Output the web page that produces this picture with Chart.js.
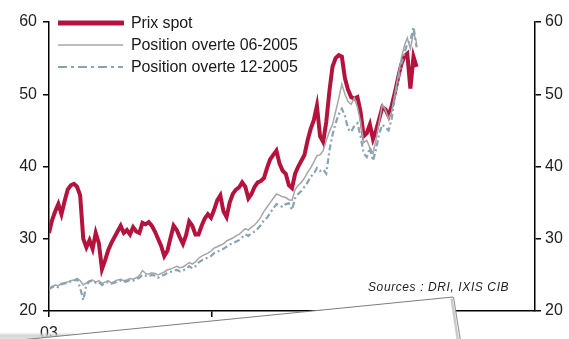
<!DOCTYPE html>
<html lang="fr">
<head>
<meta charset="UTF-8">
<title>Prix spot et positions ouvertes</title>
<script src="https://cdn.jsdelivr.net/npm/chart.js@4.4.0/dist/chart.umd.min.js"></script>
<style>
  html, body { margin: 0; padding: 0; background: #fff; }
  #wrap { position: relative; width: 569px; height: 339px; overflow: hidden; font-family: "Liberation Sans", Arial, sans-serif; }
  #chart { position: absolute; left: 0; top: 0; }
  #legend { position: absolute; left: 58px; top: 12px; }
  .row { display: flex; align-items: center; height: 22px; font-size: 16px; color: #1a1a1a; white-space: nowrap; letter-spacing: -0.1px; }
  .row svg { margin-right: 7px; display: block; }
  #sources { position: absolute; left: 368px; top: 280px; font-size: 12px; font-style: italic; letter-spacing: 0.6px; color: #222; white-space: nowrap; }
</style>
</head>
<body>
<div id="wrap">
  <canvas id="chart" width="569" height="339"></canvas>
  <div id="legend"></div>
  <div id="sources">Sources : DRI, IXIS CIB</div>
</div>
<script>
  // weekly readings from january 2003 (week 0) to early april 2005
  const seriesNames = ['Prix spot', 'Position overte 06-2005', 'Position overte 12-2005'];

  const prixSpot = [
    30.8, 32.6, 33.8, 34.8, 33.4, 35.2, 36.8, 37.4, 37.6, 37.2,
    36.0, 30.0, 28.8, 29.8, 28.6, 30.8, 29.4, 25.8, 27.0, 28.4,
    29.4, 30.2, 31.0, 31.8, 30.8, 31.2, 30.6, 31.6, 31.0, 30.8,
    32.2, 32.0, 32.3, 31.8, 31.0, 30.0, 29.0, 27.6, 28.3, 30.1,
    31.8, 31.2, 30.2, 29.3, 30.5, 32.4, 31.8, 30.6, 30.6, 31.8,
    32.8, 33.4, 32.9, 34.0, 35.3, 36.0, 33.8, 33.0, 35.0, 36.2,
    36.8, 37.1, 37.8, 37.2, 35.6, 36.2, 37.2, 37.8, 38.0, 38.4,
    39.8, 41.0, 41.6, 42.2, 40.4, 39.4, 39.0, 37.4, 37.0, 39.0,
    40.0, 40.8, 41.6, 43.6, 45.2, 46.4, 48.4, 44.2, 43.4, 46.2,
    50.4, 53.8, 55.0, 55.4, 55.2, 52.2, 50.6, 49.6, 49.4, 49.6,
    47.6, 44.2, 44.6, 45.8, 43.8, 45.0, 46.6, 48.2, 47.9, 47.0,
    48.4, 50.2, 52.2, 54.0, 55.2, 55.6, 50.8, 55.2, 53.8
  ];

  const posJuin05 = [
    23.2, 23.4, 23.6, 23.5, 23.8, 23.9, 24.0, 24.2, 24.3, 24.5,
    24.2, 23.6, 23.9, 24.2, 24.3, 24.0, 24.2, 23.8, 24.0, 24.2,
    23.9, 24.1, 24.3, 24.4, 24.2, 24.3, 24.5, 24.4, 24.6, 24.9,
    25.6, 25.2, 25.1, 25.3, 25.2, 25.0, 25.2, 25.4, 25.7, 25.8,
    26.0, 26.2, 26.0, 26.1, 26.4, 26.7, 26.5, 26.8, 27.3, 27.6,
    27.8, 28.0, 28.3, 28.7, 28.9, 29.1, 29.3, 29.7, 29.9, 30.1,
    30.4, 30.6, 31.0, 31.4, 31.2, 31.6, 31.9, 32.4, 33.0, 33.8,
    34.4, 35.0, 35.6, 36.2, 36.0, 35.8, 35.7, 35.4, 35.3, 36.8,
    37.4, 37.8, 38.4, 39.2, 39.8, 40.6, 41.5, 41.6, 42.2, 43.6,
    44.8, 45.8, 47.6, 49.4, 51.4, 50.0, 49.0, 48.6, 49.5, 48.2,
    46.2, 43.3, 43.6, 42.6, 41.8, 43.8, 46.2, 48.6, 47.8, 46.6,
    47.6, 50.0, 52.4, 54.8, 56.6, 57.8, 56.3, 58.6, 57.1
  ];

  const posDec05 = [
    23.0, 23.3, 23.5, 23.3, 23.7, 23.8, 23.9, 24.1, 24.2, 24.4,
    23.2, 21.5, 23.6, 24.1, 24.2, 23.9, 24.0, 23.6, 23.9, 24.0,
    23.8, 23.9, 24.1, 24.2, 24.0, 24.1, 24.3, 24.2, 24.4, 24.6,
    25.0, 24.9, 24.8, 25.0, 24.9, 24.6, 24.9, 25.0, 25.3, 25.4,
    25.6, 25.7, 25.5, 25.6, 25.8, 26.2, 25.9, 26.2, 26.7, 27.0,
    27.2, 27.4, 27.6, 28.0, 28.2, 28.4, 28.6, 28.9, 29.2, 29.4,
    29.6, 29.8, 30.2, 30.6, 30.4, 30.8, 31.0, 31.4, 31.9, 32.6,
    32.9, 33.6, 34.2, 34.8, 34.6, 34.4, 34.8, 34.9, 34.0, 35.6,
    36.2, 36.6, 37.2, 37.8, 38.6, 39.0, 39.8, 39.4, 39.6, 39.0,
    42.2, 44.4, 46.0, 47.2, 48.0, 47.0, 45.2, 44.8, 45.6, 46.0,
    44.2, 41.8, 41.3, 42.6, 40.8, 42.4, 44.6, 45.8, 45.4, 45.0,
    46.6, 49.6, 51.8, 54.0, 55.6, 57.0, 57.4, 59.3, 56.5
  ];

  const yearLabels = ['03', '04', '05'];
  const yearStartWeeks = [0, 52.18, 104.36];
  const yTicks = [20, 30, 40, 50, 60];

  const colors = ['#b3133d', '#a6a6a6', '#87a3b4'];
  const widths = [4, 1.5, 2.2];
  const dashes = [[], [], [6, 3, 2, 3]];

  const weeks = prixSpot.map((_, i) => i);
  const toPoints = arr => arr.map((v, i) => ({ x: weeks[i], y: v }));

  // scanned sheet of paper lying over the bottom of the page
  const paperSheet = {
    id: 'paperSheet',
    afterDraw(chart) {
      const ctx = chart.ctx;
      const h = chart.height;
      ctx.save();
      const g = ctx.createLinearGradient(0, 332, 0, 339);
      g.addColorStop(0, 'rgba(205,205,205,0)');
      g.addColorStop(0.5, 'rgba(205,205,205,0.8)');
      g.addColorStop(1, 'rgba(225,225,225,1)');
      ctx.fillStyle = g;
      ctx.fillRect(0, 332, 75, 7);

      ctx.beginPath();
      ctx.moveTo(-5, 342.5);
      ctx.lineTo(453, 297);
      ctx.lineTo(460, h + 2);
      ctx.lineTo(-5, h + 2);
      ctx.closePath();
      ctx.fillStyle = '#fff';
      ctx.fill();

      ctx.beginPath();
      ctx.moveTo(-5, 342.5);
      ctx.lineTo(453, 297);
      ctx.strokeStyle = '#7d7d7d';
      ctx.lineWidth = 1;
      ctx.stroke();

      ctx.beginPath();
      ctx.moveTo(453.5, 297);
      ctx.lineTo(460.5, h + 2);
      ctx.strokeStyle = '#9a9a9a';
      ctx.lineWidth = 1.2;
      ctx.stroke();
      ctx.beginPath();
      ctx.moveTo(451.5, 298.5);
      ctx.lineTo(458, h + 2);
      ctx.strokeStyle = 'rgba(190,190,190,0.8)';
      ctx.lineWidth = 2.5;
      ctx.stroke();
      ctx.restore();
    }
  };

  const axisFont = { family: '"Liberation Sans", Arial, sans-serif', size: 16 };
  const yAxis = (position, width) => ({
    position,
    min: 20,
    max: 60,
    afterBuildTicks: s => { s.ticks = yTicks.map(v => ({ value: v })); },
    ticks: { color: '#222', font: axisFont, padding: position === 'left' ? 6 : 4 },
    grid: { drawOnChartArea: false, drawTicks: true, tickLength: 6, color: '#000', lineWidth: 1.5 },
    border: { display: true, color: '#000', width: 1.5 },
    afterFit: s => { s.width = width; }
  });

  new Chart(document.getElementById('chart'), {
    type: 'line',
    data: {
      datasets: [prixSpot, posJuin05, posDec05].map((arr, k) => ({
        label: seriesNames[k],
        data: toPoints(arr),
        borderColor: colors[k],
        borderWidth: widths[k],
        borderDash: dashes[k],
        pointRadius: 0,
        tension: 0,
        fill: false,
        order: 3 - k
      }))
    },
    options: {
      responsive: false,
      animation: false,
      devicePixelRatio: 1,
      layout: { padding: { top: 22, left: 0, right: 0, bottom: 0 } },
      plugins: { legend: { display: false }, tooltip: { enabled: false } },
      scales: {
        x: {
          type: 'linear',
          min: 0,
          max: 156,
          afterBuildTicks: s => { s.ticks = yearStartWeeks.map(v => ({ value: v })); },
          ticks: {
            callback: (v, i) => yearLabels[i],
            color: '#222', font: axisFont, padding: 7, maxRotation: 0, autoSkip: false
          },
          grid: { drawOnChartArea: false, drawTicks: true, tickLength: 6, color: '#000', lineWidth: 1.5 },
          border: { display: true, color: '#000', width: 1.5 },
          afterFit: s => { s.height = 28; }
        },
        y: yAxis('left', 49),
        y2: yAxis('right', 34)
      }
    },
    plugins: [paperSheet]
  });

  // legend in the top-left corner of the plot
  const legend = document.getElementById('legend');
  seriesNames.forEach((name, k) => {
    const row = document.createElement('div');
    row.className = 'row';
    const sw = k === 0 ? 5 : widths[k];
    const dash = k === 2 ? 'stroke-dasharray="9 4 3 4"' : '';
    row.innerHTML = '<svg width="66" height="10"><line x1="0" y1="5" x2="65" y2="5" stroke="' + colors[k] +
      '" stroke-width="' + sw + '" stroke-linecap="' + (k === 0 ? 'round' : 'butt') + '" ' + dash + '/></svg>' +
      '<span>' + name + '</span>';
    legend.appendChild(row);
  });
</script>
</body>
</html>
